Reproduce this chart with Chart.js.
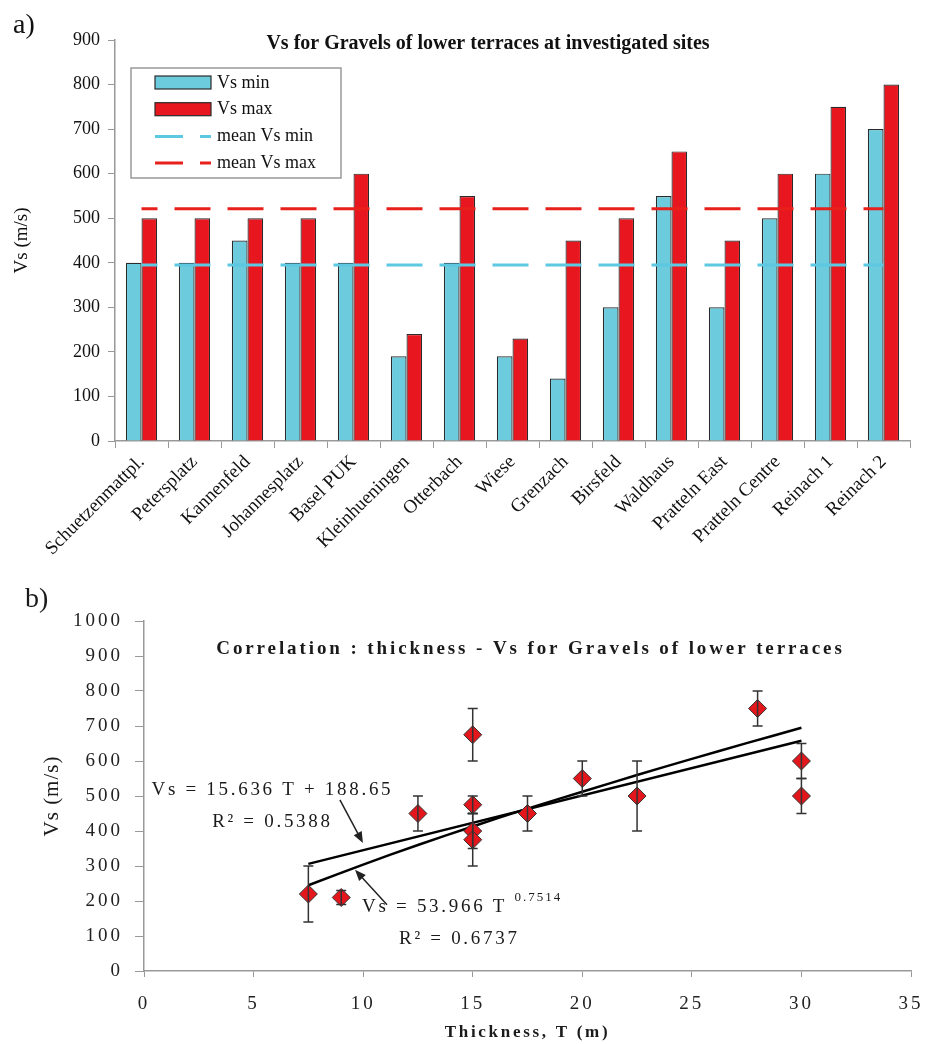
<!DOCTYPE html>
<html>
<head>
<meta charset="utf-8">
<script src="https://cdn.jsdelivr.net/npm/chart.js@4.4.1/dist/chart.umd.min.js"></script>
<style>
  body { margin: 0; background: #fff; }
  #wrap { position: relative; width: 925px; height: 1044px; }
  canvas { position: absolute; left: 0; }
  #top { top: 0; }
  #bottom { top: 575px; }
</style>
</head>
<body>
<div id="wrap">
  <canvas id="top" width="925" height="575"></canvas>
  <canvas id="bottom" width="925" height="469"></canvas>
</div>
<script>
// --- a) bars per site
const sites = ["Schuetzenmattpl.", "Petersplatz", "Kannenfeld", "Johannesplatz", "Basel PUK",
  "Kleinhueningen", "Otterbach", "Wiese", "Grenzach", "Birsfeld", "Waldhaus",
  "Pratteln East", "Pratteln Centre", "Reinach 1", "Reinach 2"];
const vsMin = [400, 400, 450, 400, 400, 190, 400, 190, 140, 300, 550, 300, 500, 600, 700];
const vsMax = [500, 500, 500, 500, 600, 240, 550, 230, 450, 500, 650, 450, 600, 750, 800];
const meanVsMin = 395;
const meanVsMax = 521;

// --- b) thickness vs Vs
const thickness = [7.5, 9, 12.5, 15, 15, 15, 15, 17.5, 20, 22.5, 28, 30, 30];
const vsMean = [220, 210, 450, 675, 475, 400, 375, 450, 550, 500, 750, 600, 500];
const vsErr = [80, 20, 50, 75, 25, 50, 75, 50, 50, 100, 50, 50, 50];
const linT = [7.5, 30];
const linVs = [306, 658];
const powT = [7.5, 10, 12.5, 15, 17.5, 20, 22.5, 25, 27.5, 30];
const powVs = [245, 304, 360, 413, 464, 512, 560, 606, 651, 695];

const serif = '"Liberation Serif", "Times New Roman", serif';
Chart.defaults.font.family = serif;
Chart.defaults.color = '#111';

const topTitle = 'Vs for Gravels of lower terraces at investigated sites';
const botTitle = 'Correlation : thickness - Vs for Gravels of lower terraces';

const topExtras = {
  id: 'topExtras',
  afterDraw(chart) {
    const ctx = chart.ctx, a = chart.chartArea;
    ctx.save();
    ctx.fillStyle = '#111';
    ctx.textBaseline = 'alphabetic';
    ctx.font = '28px ' + serif;
    ctx.fillText('a)', 13, 33);
    ctx.font = 'bold 20px ' + serif;
    ctx.textAlign = 'center';
    ctx.fillText(topTitle, 488, 49);

    ctx.save();
    ctx.translate(22, (a.top + a.bottom) / 2);
    ctx.rotate(-Math.PI / 2);
    ctx.font = '19px ' + serif;
    ctx.textBaseline = 'middle';
    ctx.fillText('Vs (m/s)', 0, 0);
    ctx.restore();

    // legend box
    const lx = a.left + 16, ly = a.top + 28, w = 210, h = 110;
    ctx.strokeStyle = '#999';
    ctx.lineWidth = 1.5;
    ctx.strokeRect(lx, ly, w, h);
    ctx.textAlign = 'left';
    ctx.textBaseline = 'middle';
    ctx.font = '18px ' + serif;
    chart.data.datasets.forEach((d, i) => {
      const cy = ly + 15 + i * 26.7;
      if (d.type === 'line') {
        ctx.strokeStyle = d.borderColor;
        ctx.lineWidth = 3;
        ctx.setLineDash([28, 17]);
        ctx.beginPath();
        ctx.moveTo(lx + 24, cy);
        ctx.lineTo(lx + 80, cy);
        ctx.stroke();
        ctx.setLineDash([]);
      } else {
        ctx.fillStyle = d.backgroundColor;
        ctx.fillRect(lx + 24, cy - 7, 56, 13);
        ctx.strokeStyle = '#2b2b2b';
        ctx.lineWidth = 1.2;
        ctx.strokeRect(lx + 24, cy - 7, 56, 13);
      }
      ctx.fillStyle = '#111';
      ctx.fillText(d.label, lx + 86, cy);
    });
    ctx.restore();
  }
};

new Chart(document.getElementById('top'), {
  type: 'bar',
  data: {
    labels: sites,
    datasets: [
      { label: 'Vs min', data: vsMin, backgroundColor: '#6ccbdc', borderColor: '#2b2b2b', borderWidth: 1.2, order: 2 },
      { label: 'Vs max', data: vsMax, backgroundColor: '#e8161e', borderColor: '#2b2b2b', borderWidth: 1.2, order: 2 },
      { type: 'line', label: 'mean Vs min', data: sites.map(() => meanVsMin), borderColor: '#5cc8e2',
        borderWidth: 3, borderDash: [36, 17], borderDashOffset: 20, pointRadius: 0, order: 1 },
      { type: 'line', label: 'mean Vs max', data: sites.map(() => meanVsMax), borderColor: '#e8201c',
        borderWidth: 3, borderDash: [36, 17], borderDashOffset: 20, pointRadius: 0, order: 1 }
    ]
  },
  options: {
    responsive: false,
    animation: false,
    layout: { padding: { left: 0, right: 15, top: 40, bottom: 0 } },
    datasets: { bar: { categoryPercentage: 0.59, barPercentage: 1 } },
    plugins: { legend: { display: false }, tooltip: { enabled: false } },
    scales: {
      x: {
        grid: { drawOnChartArea: false, color: '#999', tickLength: 7, offset: true },
        border: { color: '#999', width: 1.5 },
        ticks: { minRotation: 45, maxRotation: 45, autoSkip: false, color: '#111', font: { size: 19 }, padding: 3 },
        afterFit(s) { s.height = 134; s.paddingLeft = 0; s.paddingRight = 0; }
      },
      y: {
        min: 0, max: 900,
        grid: { drawOnChartArea: false, color: '#999', tickLength: 7 },
        border: { color: '#999', width: 1.5 },
        ticks: { stepSize: 100, color: '#111', font: { size: 18 }, padding: 8 },
        afterFit(s) { s.width = 115; }
      }
    }
  },
  plugins: [topExtras]
});

const botExtras = {
  id: 'botExtras',
  beforeDraw(chart) {
    chart.ctx.letterSpacing = '3px';
  },
  afterDatasetsDraw(chart) {
    const ctx = chart.ctx, xs = chart.scales.x, ys = chart.scales.y;
    ctx.save();
    ctx.strokeStyle = '#333';
    ctx.lineWidth = 1.5;
    thickness.forEach((t, i) => {
      const px = xs.getPixelForValue(t);
      const y1 = ys.getPixelForValue(vsMean[i] + vsErr[i]);
      const y2 = ys.getPixelForValue(vsMean[i] - vsErr[i]);
      ctx.beginPath();
      ctx.moveTo(px, y1); ctx.lineTo(px, y2);
      ctx.moveTo(px - 5, y1); ctx.lineTo(px + 5, y1);
      ctx.moveTo(px - 5, y2); ctx.lineTo(px + 5, y2);
      ctx.stroke();
    });
    ctx.restore();
  },
  afterDraw(chart) {
    const ctx = chart.ctx, xs = chart.scales.x, ys = chart.scales.y, a = chart.chartArea;
    const X = v => xs.getPixelForValue(v), Y = v => ys.getPixelForValue(v);
    ctx.save();
    ctx.fillStyle = '#1a1a1a';
    ctx.textBaseline = 'alphabetic';
    ctx.letterSpacing = '0px';
    ctx.font = '28px ' + serif;
    ctx.fillText('b)', 25, 32);

    ctx.letterSpacing = '2.9px';
    ctx.textAlign = 'center';
    ctx.font = 'bold 19px ' + serif;
    ctx.fillText(botTitle, (a.left + a.right) / 2 + 3, 79);
    ctx.letterSpacing = '2.7px';
    ctx.font = 'bold 17px ' + serif;
    ctx.fillText('Thickness, T (m)', (a.left + a.right) / 2, 462);

    ctx.save();
    ctx.translate(52, (a.top + a.bottom) / 2);
    ctx.rotate(-Math.PI / 2);
    ctx.letterSpacing = '1px';
    ctx.font = '21px ' + serif;
    ctx.textBaseline = 'middle';
    ctx.fillText('Vs (m/s)', 0, 0);
    ctx.restore();

    // trend line equations
    ctx.letterSpacing = '2.7px';
    ctx.font = '19px ' + serif;
    ctx.textBaseline = 'middle';
    ctx.textAlign = 'center';
    ctx.fillText('Vs = 15.636 T + 188.65', X(5.86), Y(517));
    ctx.fillText('R\u00B2 = 0.5388', X(5.86), Y(426));
    ctx.fillText('R\u00B2 = 0.6737', X(14.39), Y(91));
    ctx.textAlign = 'left';
    const main = 'Vs = 53.966 T ';
    ctx.fillText(main, X(9.95), Y(183));
    const mw = ctx.measureText(main).width;
    ctx.font = '13px ' + serif;
    ctx.letterSpacing = '2px';
    ctx.fillText('0.7514', X(9.95) + mw, Y(183) - 9);

    // arrows
    const arrows = [[8.94, 489, 9.99, 366], [11.09, 189, 9.63, 289]];
    ctx.strokeStyle = '#222';
    ctx.fillStyle = '#222';
    ctx.lineWidth = 1.5;
    arrows.forEach(([t1, v1, t2, v2]) => {
      const x1 = X(t1), y1 = Y(v1), x2 = X(t2), y2 = Y(v2);
      const ang = Math.atan2(y2 - y1, x2 - x1);
      ctx.beginPath();
      ctx.moveTo(x1, y1); ctx.lineTo(x2 - 6 * Math.cos(ang), y2 - 6 * Math.sin(ang));
      ctx.stroke();
      ctx.beginPath();
      ctx.moveTo(x2, y2);
      ctx.lineTo(x2 - 11 * Math.cos(ang) + 4.5 * Math.sin(ang), y2 - 11 * Math.sin(ang) - 4.5 * Math.cos(ang));
      ctx.lineTo(x2 - 11 * Math.cos(ang) - 4.5 * Math.sin(ang), y2 - 11 * Math.sin(ang) + 4.5 * Math.cos(ang));
      ctx.closePath();
      ctx.fill();
    });
    ctx.restore();
  }
};

new Chart(document.getElementById('bottom'), {
  type: 'scatter',
  data: {
    datasets: [
      { type: 'line', label: 'linear', data: linT.map((t, i) => ({ x: t, y: linVs[i] })),
        borderColor: '#000', borderWidth: 2.5, pointRadius: 0, tension: 0, order: 2 },
      { type: 'line', label: 'power', data: powT.map((t, i) => ({ x: t, y: powVs[i] })),
        borderColor: '#000', borderWidth: 2.5, pointRadius: 0, tension: 0.3, order: 2 },
      { label: 'Vs', data: thickness.map((t, i) => ({ x: t, y: vsMean[i] })),
        pointStyle: 'rectRot', pointRadius: 9, backgroundColor: '#e3161c', borderColor: '#333', borderWidth: 1, order: 1 }
    ]
  },
  options: {
    responsive: false,
    animation: false,
    layout: { padding: { left: 0, right: 14, top: 46, bottom: 0 } },
    plugins: { legend: { display: false }, tooltip: { enabled: false } },
    scales: {
      x: {
        type: 'linear', min: 0, max: 35,
        grid: { drawOnChartArea: false, color: '#999', tickLength: 6 },
        border: { color: '#999', width: 1.5 },
        ticks: { stepSize: 5, color: '#222', font: { size: 19 }, padding: 16, callback: v => String(v) },
        afterFit(s) { s.height = 73; s.paddingLeft = 0; s.paddingRight = 0; }
      },
      y: {
        min: 0, max: 1000,
        grid: { drawOnChartArea: false, color: '#999', tickLength: 9 },
        border: { color: '#999', width: 1.5 },
        ticks: { stepSize: 100, color: '#222', font: { size: 19 }, padding: 12, callback: v => String(v) },
        afterFit(s) { s.width = 144; }
      }
    }
  },
  plugins: [botExtras]
});
</script>
</body>
</html>
